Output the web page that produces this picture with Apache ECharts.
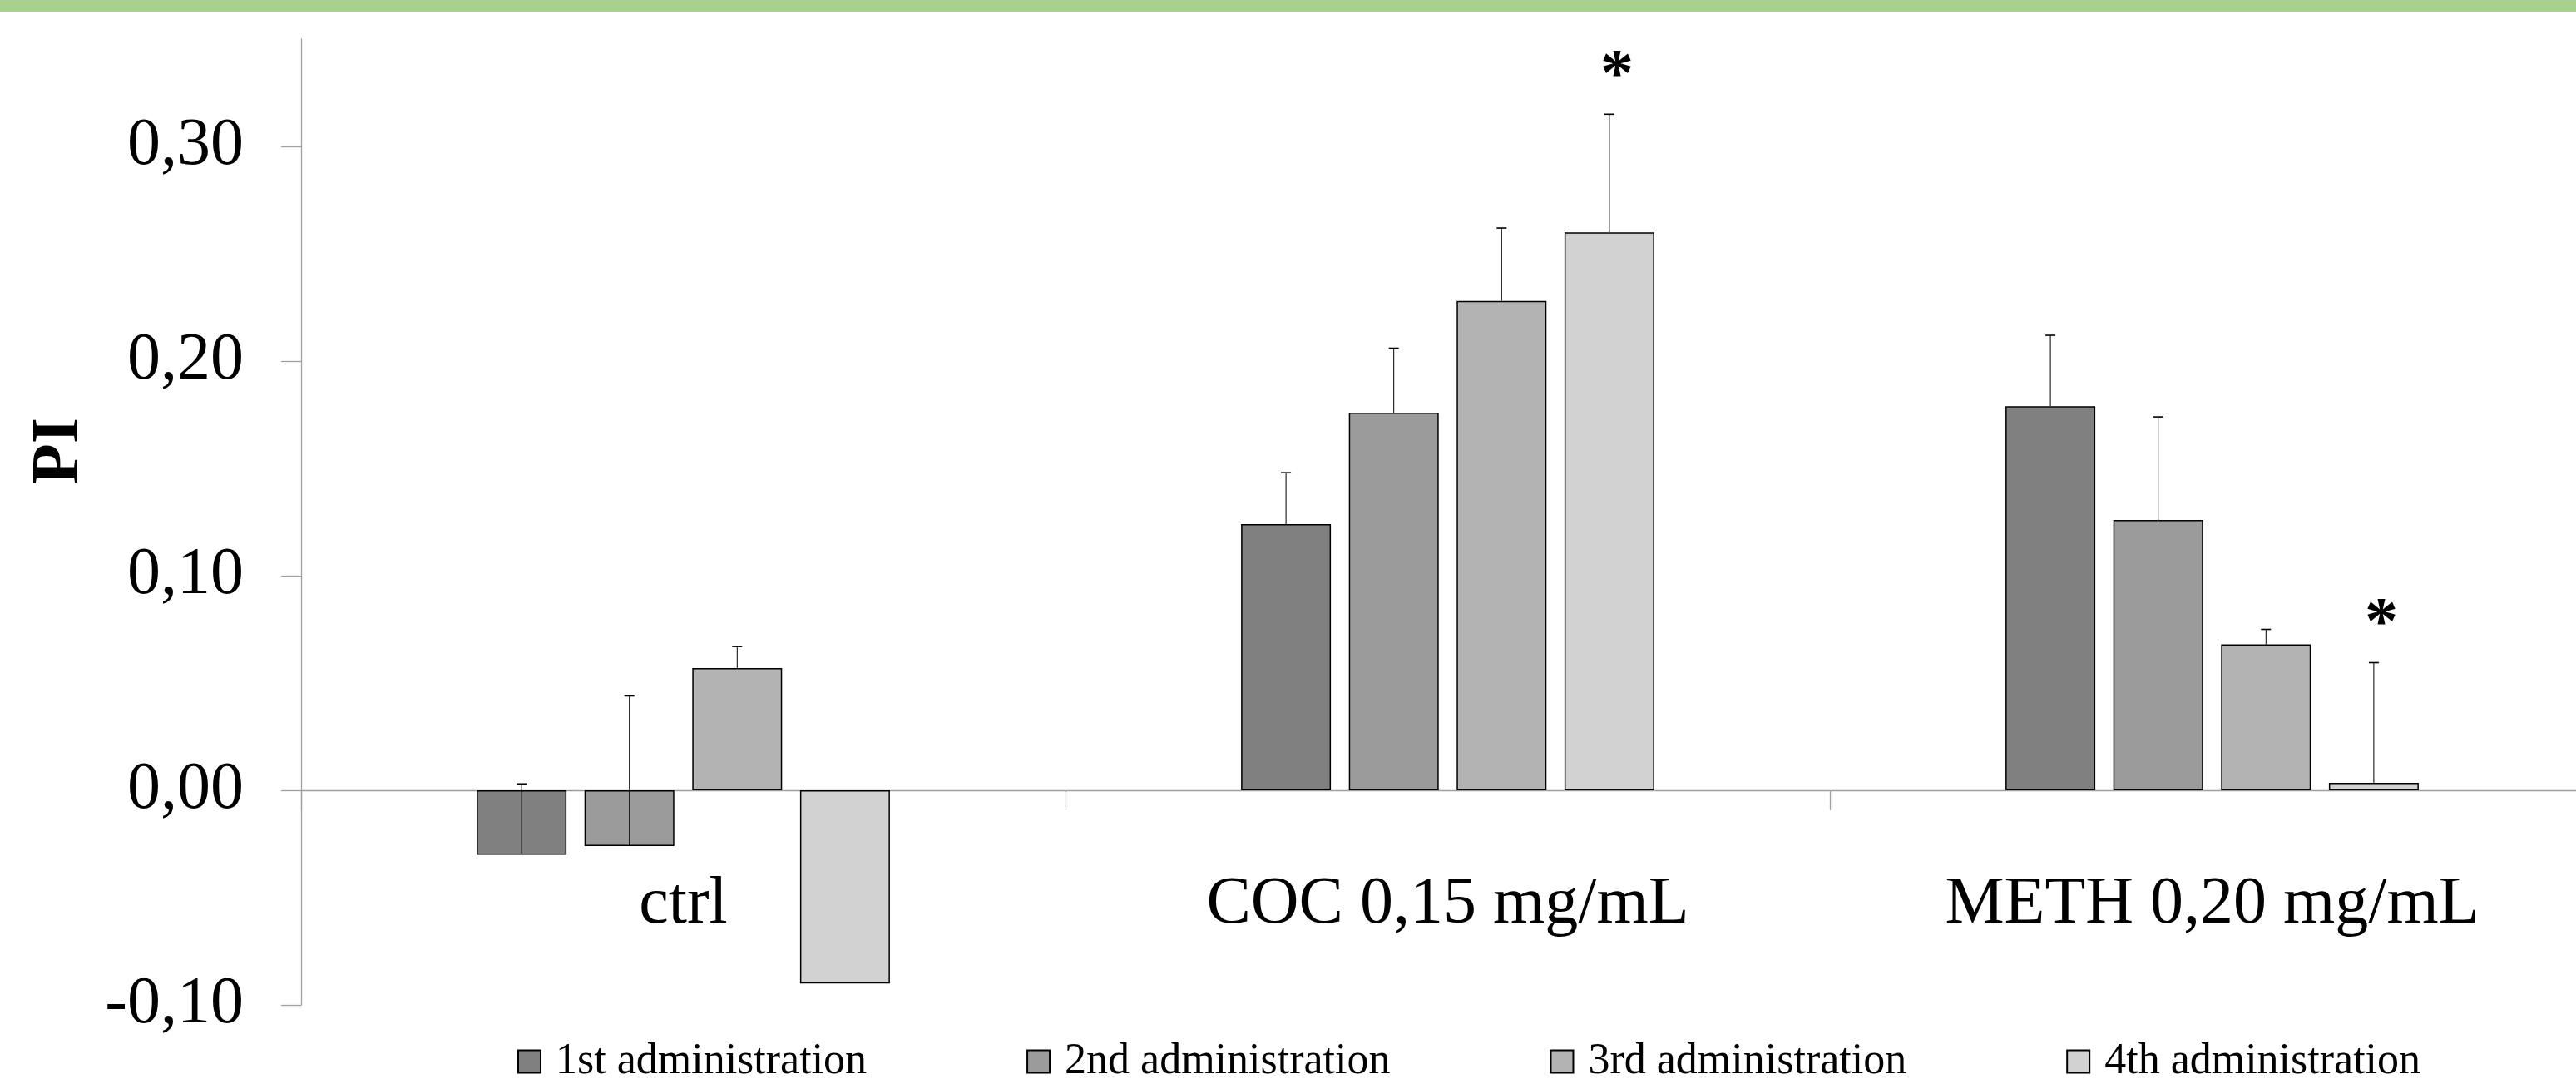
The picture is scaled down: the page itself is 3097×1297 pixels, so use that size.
<!DOCTYPE html>
<html>
<head>
<meta charset="utf-8">
<script src="https://cdn.jsdelivr.net/npm/echarts@6/dist/echarts.min.js"></script>
<style>
  html, body { margin: 0; padding: 0; background: #fff; }
  #chart { width: 3097px; height: 1297px; }
</style>
</head>
<body>
<div id="chart"></div>
<script>
const categories = ['ctrl', 'COC 0,15 mg/mL', 'METH 0,20 mg/mL'];
const seriesNames = ['1st administration', '2nd administration', '3rd administration', '4th administration'];
const yTicks = [-0.1, 0, 0.1, 0.2, 0.3];

// mean PI (ctrl, COC, METH)
const admin1 = [-0.030, 0.124, 0.179];
const admin2 = [-0.026, 0.176, 0.126];
const admin3 = [0.057, 0.228, 0.068];
const admin4 = [-0.090, 0.260, 0.0035];

// upper error bar lengths
const err1 = [0.033, 0.024, 0.033];
const err2 = [0.070, 0.030, 0.048];
const err3 = [0.010, 0.034, 0.007];
const err4 = [0, 0.055, 0.056];

// significance marks
const sig1 = ['', '', ''];
const sig2 = ['', '', ''];
const sig3 = ['', '', ''];
const sig4 = ['', '*', '*'];

const means = [admin1, admin2, admin3, admin4];
const errs = [err1, err2, err3, err4];
const sigs = [sig1, sig2, sig3, sig4];
const barColors = ['#808080', '#9b9b9b', '#b3b3b3', '#d2d2d2'];

const FONT = '"Liberation Serif", "Times New Roman", serif';
const BAR_W = 108;
const BAR_GAP = '20%';
const axisGray = '#a0a0a0';

const chart = echarts.init(document.getElementById('chart'));

function errRenderer(j) {
  return function (params, api) {
    const cat = api.value(0);
    const val = api.value(1);
    const err = api.value(2);
    const lay = api.barLayout({ count: 4, barWidth: BAR_W, barGap: BAR_GAP });
    const dx = lay[j].offsetCenter;
    const p0 = api.coord([cat, val]);
    const p1 = api.coord([cat, val + err]);
    const x = p0[0] + dx;
    const children = [];
    if (err > 0) {
      children.push({
        type: 'line',
        shape: { x1: x, y1: p0[1], x2: x, y2: p1[1] },
        style: { stroke: '#000', lineWidth: 1 }
      });
      children.push({
        type: 'line',
        shape: { x1: x - 6, y1: p1[1], x2: x + 6, y2: p1[1] },
        style: { stroke: '#000', lineWidth: 1.6 }
      });
    }
    const mark = sigs[j][params.dataIndex];
    if (mark) {
      children.push({
        type: 'text',
        style: {
          text: mark, x: x + 9, y: p1[1] - 44,
          align: 'center', verticalAlign: 'middle',
          font: 'bold 80px ' + FONT, fill: '#000'
        }
      });
    }
    return { type: 'group', children: children };
  };
}

const series = [];
for (let j = 0; j < 4; j++) {
  series.push({
    name: seriesNames[j],
    type: 'bar',
    data: means[j],
    barWidth: BAR_W,
    barGap: BAR_GAP,
    itemStyle: { color: barColors[j], borderColor: '#000', borderWidth: 1.5 },
    emphasis: { disabled: true }
  });
}
for (let j = 0; j < 4; j++) {
  series.push({
    type: 'custom',
    z: 5,
    renderItem: errRenderer(j),
    encode: { x: 0, y: 1 },
    data: means[j].map((v, i) => [i, v, errs[j][i]]),
    silent: true
  });
}

const option = {
  animation: false,
  backgroundColor: '#fff',
  grid: { left: 362, top: 47, width: 2757, height: 1161, containLabel: false, outerBoundsMode: 'none' },
  legend: {
    data: seriesNames,
    left: 622,
    top: 1250,
    padding: 0,
    itemGap: 192,
    itemWidth: 27,
    itemHeight: 27,
    icon: 'rect',
    textStyle: { fontFamily: FONT, fontSize: 52, color: '#000', lineHeight: 52, padding: [0, 0, 0, 13] }
  },
  xAxis: {
    type: 'category',
    data: categories,
    axisLine: { onZero: true, lineStyle: { color: axisGray, width: 1.3 } },
    axisTick: { show: true, length: 24, lineStyle: { color: axisGray, width: 1.3 } },
    // labels sit just under the zero line, measured from the grid bottom
    axisLabel: { fontFamily: FONT, fontSize: 80, color: '#000', lineHeight: 80, margin: -160 },
    splitLine: { show: false }
  },
  yAxis: {
    type: 'value',
    min: -0.1,
    max: 0.35,
    axisLine: { show: true, lineStyle: { color: axisGray, width: 1.3 } },
    axisTick: { show: true, length: 24, customValues: yTicks, lineStyle: { color: axisGray, width: 1.3 } },
    axisLabel: {
      customValues: yTicks,
      fontFamily: FONT, fontSize: 80, color: '#000', margin: 69,
      formatter: v => v.toFixed(2).replace('.', ',')
    },
    splitLine: { show: false }
  },
  graphic: [
    { type: 'rect', left: 0, top: 0, shape: { width: 3097, height: 14 }, style: { fill: '#a9d18e' } },
    {
      type: 'text', x: 72, y: 542, rotation: Math.PI / 2,
      style: { text: 'PI', font: 'bold 80px ' + FONT, fill: '#000', align: 'center', verticalAlign: 'middle' }
    }
  ],
  series: series
};

chart.setOption(option);
</script>
</body>
</html>
